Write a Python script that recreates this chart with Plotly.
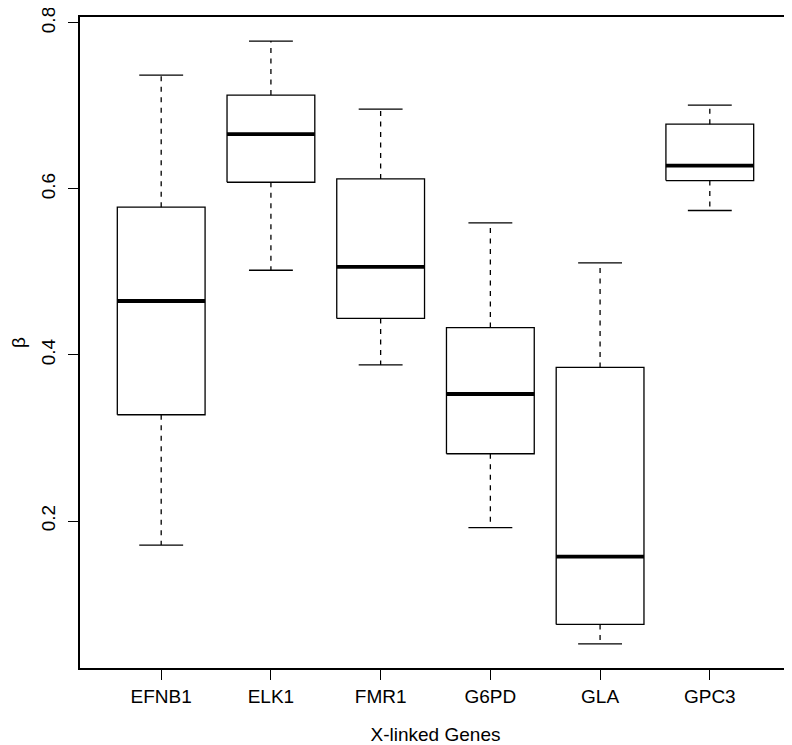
import plotly.graph_objects as go

# ---- data ----
genes = ["EFNB1", "ELK1", "FMR1", "G6PD", "GLA", "GPC3"]
lower_whisker = [0.171, 0.502, 0.388, 0.192, 0.052, 0.574]
q1 = [0.328, 0.608, 0.444, 0.281, 0.0755, 0.610]
median = [0.465, 0.666, 0.506, 0.353, 0.157, 0.628]
q3 = [0.578, 0.713, 0.612, 0.433, 0.385, 0.678]
upper_whisker = [0.737, 0.778, 0.696, 0.559, 0.511, 0.701]
y_ticks = [0.2, 0.4, 0.6, 0.8]
x_title = "X-linked Genes"
y_title = "β"

# ---- styling constants ----
BOX_HALF = 0.4      # box width 0.8 (R default)
STAPLE_HALF = 0.2   # staplewex 0.5
FONT = "Liberation Sans, Arial, Helvetica, sans-serif"
PAGE_OFFSET = 8     # default body margin of the html page

pos = list(range(1, len(genes) + 1))

box_x, box_y = [], []
med_x, med_y = [], []
wh_x, wh_y = [], []
cap_x, cap_y = [], []
for p, lo, a, m, b, hi in zip(pos, lower_whisker, q1, median, q3, upper_whisker):
    box_x += [p - BOX_HALF, p + BOX_HALF, p + BOX_HALF, p - BOX_HALF, p - BOX_HALF, None]
    box_y += [a, a, b, b, a, None]
    med_x += [p - BOX_HALF, p + BOX_HALF, None]
    med_y += [m, m, None]
    wh_x += [p, p, None, p, p, None]
    wh_y += [b, hi, None, a, lo, None]
    cap_x += [p - STAPLE_HALF, p + STAPLE_HALF, None, p - STAPLE_HALF, p + STAPLE_HALF, None]
    cap_y += [hi, hi, None, lo, lo, None]

fig = go.Figure()
fig.add_trace(go.Scatter(x=wh_x, y=wh_y, mode="lines",
                         line=dict(color="black", width=1.3, dash="5px,5.5px"),
                         hoverinfo="skip"))
fig.add_trace(go.Scatter(x=cap_x, y=cap_y, mode="lines",
                         line=dict(color="black", width=1.3), hoverinfo="skip"))
fig.add_trace(go.Scatter(x=box_x, y=box_y, mode="lines",
                         line=dict(color="black", width=1.3), hoverinfo="skip"))
fig.add_trace(go.Scatter(x=med_x, y=med_y, mode="lines",
                         line=dict(color="black", width=3.8), hoverinfo="skip"))

n = len(genes)
x_lo, x_hi = 0.5, n + 0.5
xr = [x_lo - 0.04 * (x_hi - x_lo), x_hi + 0.04 * (x_hi - x_lo)]
y_lo, y_hi = min(lower_whisker), max(upper_whisker)
yr = [y_lo - 0.04 * (y_hi - y_lo), y_hi + 0.04 * (y_hi - y_lo)]

fig.update_layout(
    width=792 - PAGE_OFFSET, height=745 - PAGE_OFFSET,
    margin=dict(l=80 - PAGE_OFFSET, r=1, t=17 - PAGE_OFFSET, b=77),
    plot_bgcolor="white", paper_bgcolor="white",
    showlegend=False,
    font=dict(family=FONT, size=19, color="black"),
)
fig.update_xaxes(
    range=xr, tickmode="array", tickvals=pos, ticktext=genes,
    ticks="outside", ticklen=10, tickwidth=1.2, tickcolor="black",
    showline=True, linecolor="black", linewidth=1.5, mirror=True,
    showgrid=False, zeroline=False, automargin=False,
    ticklabeloverflow="allow",
    title=dict(text=x_title, standoff=24, font=dict(size=19)),
)
fig.update_yaxes(
    range=yr, tickmode="array", tickvals=y_ticks,
    ticktext=[str(v) for v in y_ticks],
    ticks="outside", ticklen=10, tickwidth=1.2, tickcolor="black",
    tickangle=-90, ticklabelstandoff=6, ticklabeloverflow="allow",
    showline=True, linecolor="black", linewidth=1.5, mirror=True,
    showgrid=False, zeroline=False, automargin=False,
    title=dict(text=y_title, standoff=19, font=dict(size=19)),
)

fig.write_html("out.html")
